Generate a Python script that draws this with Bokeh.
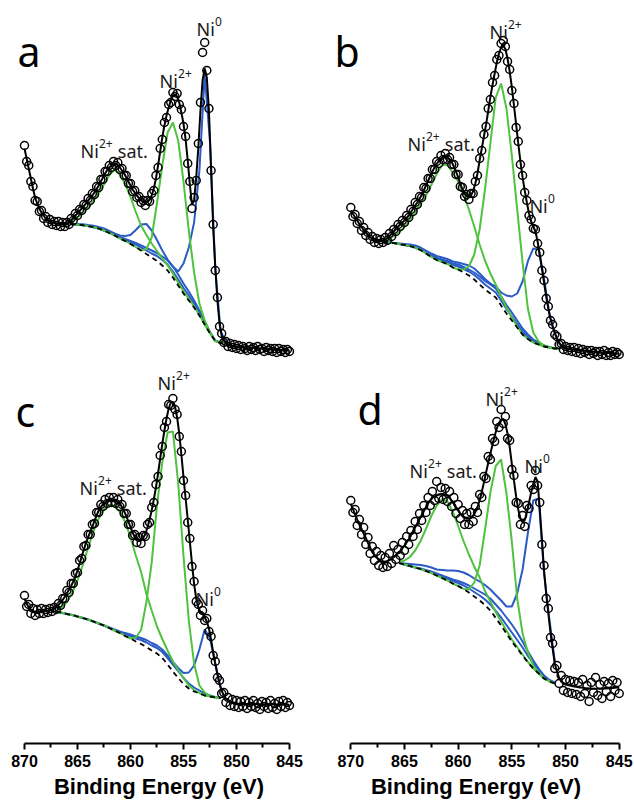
import numpy as np
from bokeh.plotting import figure
from bokeh.layouts import column, row
from bokeh.models import Range1d, FixedTicker
from bokeh.core.properties import value
from bokeh.embed import file_html
from bokeh.resources import INLINE

# ---------------- data ----------------
# binding-energy grid of the measured points / fit envelope (eV)
ENERGY = np.linspace(870.0, 845.0, 126)
TICKS = [870, 865, 860, 855, 850, 845]
MINOR_TICKS = [867.5, 862.5, 857.5, 852.5, 847.5]

# ---- panel a ----
A_FIT = [222, 212, 202, 192, 182, 173, 167, 162, 158, 155,
         152, 150, 149, 148, 147.5, 147, 147, 146.5, 146, 146,
         146.5, 148, 150, 152.5, 155, 157, 159.5, 162, 164.5, 167,
         170, 172.5, 175, 178, 181.5, 185, 189, 193, 197, 200.5,
         203, 205, 206.5, 207, 205.5, 203, 200, 197, 193, 189,
         185, 181, 178, 175, 172.5, 170, 168.5, 168, 168.5, 171,
         175, 182, 192, 205, 219, 233, 245, 255, 263, 270,
         275, 276, 274, 268, 258, 247, 231, 210, 186, 166,
         170, 193, 223, 260, 290, 302, 293, 260, 203, 143,
         103, 70, 47, 35, 30, 27.5, 26, 25, 24.5, 24,
         23.5, 23.4, 23.3, 23.2, 23.1, 23, 22.9, 22.8, 22.7, 22.5,
         22.4, 22.2, 22.1, 22, 21.8, 21.6, 21.5, 21.3, 21.1, 21,
         20.8, 20.6, 20.5, 20.3, 20.1, 20]
A_DATA = [225, 209, 205, 189, 184, 170, 169, 159, 160, 152,
          154, 148, 151, 146, 149, 145, 149, 144, 148, 144,
          148, 146, 152, 150, 157, 155, 161, 160, 166, 165,
          172, 170, 177, 176, 184, 183, 191, 191, 199, 199,
          205, 203, 209, 205, 208, 201, 202, 195, 195, 187,
          187, 179, 180, 173, 174, 168, 170, 165, 170, 169,
          177, 180, 195, 203, 222, 231, 248, 253, 266, 268,
          278, 274, 277, 266, 261, 244, 234, 207, 189, 162,
          173, 190, 227, 268, 318, 328, 300, 262, 200, 146,
          100, 73, 44, 37, 28, 29, 24, 27, 23, 26,
          22, 25, 21, 24, 22, 20, 24, 21, 23, 20,
          24, 21, 22, 19, 23, 20, 22, 19, 22, 18,
          22, 19, 21, 18, 21, 19]
A_COMP_RANGE = (866.5, 851.0)
A_BG = [146.5, 146.5, 146.3, 146, 145.3, 144.5, 143.3, 142, 140, 137.5, 135, 132, 129.5, 126.5, 123.5, 120,
        116.5, 113, 109.5, 105, 100, 93, 85, 77, 70, 63, 55, 46, 37, 29.5, 27.5, 27]
A_G1 = [0, 1, 3, 7, 12, 18, 26, 35, 46, 58, 66, 64, 57, 47, 35, 25,
        19, 14, 10, 7, 5, 4, 3, 2, 1.5, 1, 0.5, 0, 0, 0, 0, 0]
A_G2 = [0, 0, 0, 0, 0, 0, 0, 0, 0, 0, 0, 0, 0, 0, 0, 0,
        5, 20, 58, 100, 138, 155, 145, 112, 70, 35, 12, 4, 1, 0, 0, 0]
A_B1 = [0, 0, 0.5, 0.5, 1, 1, 1.5, 1.5, 2, 2, 2, 3, 5, 9, 17, 26,
        30, 27, 21, 15, 11, 11, 14, 30, 53, 85, 145, 250, 191, 72, 12, 1]
A_B2 = [0, 0, 0, 0, 0, 0, 0, 0, 0, 0.5, 1, 1.5, 2, 3, 4, 5,
        6, 7, 8, 9, 10, 11, 11, 10, 9, 7, 5, 3, 1.5, 0.5, 0, 0]
A_B3 = [0, 0, 0, 0, 0, 0, 0, 0, 0, 0.5, 1, 1, 1.5, 2, 2.5, 3,
        3.5, 4, 5, 5.5, 6, 6, 6, 5.5, 5, 4, 3, 2, 1, 0.5, 0, 0]

# ---- panel b ----
B_FIT = [160, 156.5, 153.3, 150, 146.5, 143.3, 140.5, 138, 135.5, 133.5,
         131.7, 130.5, 129.5, 129.3, 129.5, 130, 131, 132.5, 134.5, 136.5,
         139, 141.5, 144, 146, 148, 150, 152.5, 155, 158.5, 161.5,
         165, 168, 171.5, 175.5, 180, 185, 189.5, 194.5, 199, 203,
         206.7, 209.5, 212, 213.5, 214, 213.3, 211, 208.5, 204, 199,
         193.3, 187, 181, 177, 174.5, 173.3, 175, 179.5, 187, 197,
         210, 222, 234, 246, 259.5, 273.3, 285.5, 297, 308, 317,
         323, 325, 321.5, 312, 299, 283.3, 265, 246, 227, 209,
         193.3, 180, 168, 157, 149, 144, 139, 129, 116, 102,
         88, 74, 62, 52, 44, 38, 32, 28, 25, 23,
         22, 21.8, 21.5, 21.2, 21, 20.8, 20.5, 20.3, 20, 19.8,
         19.5, 19.3, 19, 18.8, 18.6, 18.4, 18.3, 18.1, 18, 17.8,
         17.6, 17.4, 17.2, 17, 16.8, 16.7]
B_DATA = [163, 154, 156, 147, 149, 140, 143, 135, 138, 131,
          134, 128, 132, 127, 131, 128, 133, 130, 137, 134,
          141, 139, 146, 144, 150, 148, 155, 153, 161, 159,
          168, 166, 174, 173, 183, 182, 192, 192, 201, 201,
          209, 207, 215, 211, 217, 211, 213, 206, 206, 196,
          196, 184, 183, 174, 176, 171, 177, 177, 189, 195,
          212, 220, 236, 244, 262, 271, 288, 295, 311, 315,
          327, 330, 324, 309, 301, 280, 267, 243, 229, 206,
          195, 178, 170, 155, 151, 142, 141, 127, 118, 100,
          90, 72, 64, 50, 46, 36, 34, 26, 27, 21,
          24, 20, 23, 19, 23, 18, 22, 17, 21, 18,
          20, 16, 20, 17, 19, 15, 19, 16, 20, 15,
          18, 15, 19, 16, 18, 16]
B_COMP_RANGE = (867.0, 850.5)
B_BG = [128.5, 128, 127.5, 126.5, 125.5, 124.5, 123, 120.5, 117, 113.5, 110.5, 108.5, 106.5, 103, 101, 98, 95,
        91, 86, 81, 77, 73, 65, 57, 50, 43, 36, 31.5, 28, 26, 24, 23, 22, 21.5]
B_G1 = [0, 3, 7, 12, 18, 26, 35, 46, 58, 72, 86, 97, 99, 95, 88, 78, 66,
        53, 40, 29, 20, 13, 9, 6, 3, 1, 0, 0, 0, 0, 0, 0, 0, 0]
B_G2 = [0, 0, 0, 0, 0, 0, 0, 0, 0, 0, 0, 0, 0, 0, 0, 3, 9,
        25, 55, 100, 150, 200, 222, 205, 165, 118, 72, 30, 10, 3, 1, 0, 0, 0]
B_B1 = [0, 0, 0, 0.5, 1, 1.5, 2, 2.5, 3, 3.5, 4, 4.5, 5, 6, 7, 8.5, 10,
        11, 11, 10.5, 10, 11, 13, 18, 24, 34, 53, 78, 94, 95, 68, 33, 15, 4]
B_B2 = [0, 0, 0, 0, 0, 0, 0, 0.5, 1, 1.5, 2, 2.5, 3, 4, 5, 5.5, 6,
        7, 8, 8.5, 9, 9, 9, 8.5, 8, 7, 6, 4.5, 3, 2, 1, 0.5, 0, 0]
B_B3 = [0, 0, 0, 0, 0, 0, 0, 0, 0.5, 1, 1, 1.5, 2, 2.5, 3, 3.5, 4,
        4.5, 5, 5, 5, 5, 5, 4.5, 4, 3.5, 3, 2, 1.5, 1, 0.5, 0, 0, 0]

# ---- panel c ----
C_FIT = [145, 140, 136, 133.5, 132, 131.3, 131.5, 132, 132.3, 132.4,
         132.5, 132.8, 133.2, 133.8, 134.8, 136.2, 138.3, 140.8, 143.5, 146.7,
         150.3, 153.8, 157.5, 162, 167, 173, 180, 187, 194, 200.5,
         206.3, 211.5, 216.8, 222.3, 228, 233, 236.5, 239, 241, 242.3,
         243, 243.5, 243.3, 242.7, 241.5, 239.7, 236.5, 232.3, 227.5, 222,
         216.3, 211, 206.5, 204, 203, 203.5, 205.5, 209.5, 216, 224,
         233, 244, 256, 270, 285, 299.7, 313, 325, 335, 341,
         341.3, 337, 326, 310, 289, 266.3, 245, 224, 202, 180,
         159.7, 145, 136, 131.5, 129.5, 126.3, 122, 115, 104, 91,
         79.7, 69, 60, 53, 48, 44.7, 43, 41.8, 41, 40.3,
         39.7, 39.6, 39.5, 39.5, 39.4, 39.4, 39.4, 39.3, 39.3, 39.3,
         39.2, 39.2, 39.2, 39.1, 39.1, 39.1, 39.0, 39.0, 39.0, 39.0,
         38.9, 38.9, 38.9, 38.8, 38.8, 38.8]
C_DATA = [148, 137, 139, 130, 135, 128, 134, 130, 135, 130,
          134, 131, 135, 132, 136, 134, 140, 138, 145, 145,
          153, 151, 160, 160, 170, 171, 183, 185, 197, 198,
          209, 209, 219, 220, 231, 231, 239, 237, 244, 240,
          246, 241, 246, 240, 244, 237, 239, 230, 230, 219,
          219, 208, 209, 201, 206, 200, 208, 207, 219, 221,
          236, 241, 259, 267, 288, 297, 316, 322, 339, 338,
          345, 334, 329, 307, 292, 263, 248, 221, 205, 177,
          162, 142, 139, 128, 133, 123, 125, 112, 107, 88,
          82, 66, 63, 50, 51, 41, 46, 38, 44, 37,
          43, 36, 42, 37, 43, 35, 41, 37, 43, 36,
          40, 34, 42, 37, 41, 35, 43, 36, 40, 34,
          42, 37, 43, 36, 41, 38]
C_COMP_RANGE = (867.0, 851.5)
C_BG = [132, 130.8, 129.5, 128.5, 127, 125.5, 124, 122, 120, 118, 115.5, 113, 110.5, 107.5, 105, 102,
        99.5, 96.5, 93, 90, 85.5, 79, 72, 65.5, 59.5, 55, 52, 50, 48, 47, 46, 45.5]
C_G1 = [0, 5, 12, 22, 36, 53, 72, 90, 105, 116, 123, 125, 121, 114, 101, 86,
        72, 53, 40, 27, 19, 14, 10, 8, 6, 3, 1.5, 0.5, 0, 0, 0, 0]
C_G2 = [0, 0, 0, 0, 0, 0, 0, 0, 0, 0, 0, 0, 0, 0, 0, 4,
        14, 45, 88, 148, 196, 232, 240, 195, 128, 68, 28, 8, 3, 0.5, 0, 0]
C_B1 = [0, 0, 0, 0, 0, 0, 0, 0, 0, 0, 0, 0, 1, 3, 4, 5,
        6, 7, 7.5, 8, 8.5, 9, 9.5, 10, 11, 16, 26, 44, 66, 58, 34, 10]
C_B2 = [0, 0, 0, 0, 0, 0, 0, 0, 0, 0, 0.5, 1, 1.5, 2, 2.5, 3,
        4, 4.5, 5, 5.5, 6, 6.5, 7, 7, 6, 5, 4, 3, 2, 1, 0.5, 0]

# ---- panel d ----
D_FIT = [239.7, 234.5, 229, 223.8, 219, 214.7, 210, 205.5, 200.7, 196,
         191.3, 188.5, 186, 184, 182.3, 181.3, 181.5, 182.3, 183.5, 184.8,
         186.3, 188.3, 190.3, 192.5, 195.2, 198, 201, 204.5, 208.3, 212.3,
         216.3, 220.3, 224.3, 228.3, 232.3, 236.3, 240, 243.3, 245.7, 247,
         248, 249, 249.6, 249.6, 249, 248, 246, 243, 239.5, 236.3,
         233, 230, 227.3, 225.5, 224.8, 224.7, 225.8, 228, 231.5, 236.5,
         243, 251.5, 261, 271, 280.5, 289.7, 298.7, 307.5, 315, 320.5,
         323, 324.7, 319.5, 310, 296.5, 279.7, 263, 247, 234, 225,
         221.3, 223.5, 231, 241, 251, 259.7, 266.5, 262, 235, 205,
         173, 150, 130, 111, 95, 80, 72, 66, 62, 60,
         59, 58.4, 57.9, 57.5, 57.1, 56.7, 56.3, 56, 55.7, 55.4,
         55.2, 55, 54.8, 54.7, 54.7, 54.7, 54.7, 54.8, 54.9, 55,
         55.2, 55.4, 55.6, 55.8, 56, 56.3]
D_DATA = [243, 231, 234, 218, 224, 209, 216, 199, 206, 190,
          197, 183, 192, 178, 188, 176, 186, 177, 190, 180,
          198, 184, 194, 188, 201, 193, 207, 199, 213, 207,
          222, 214, 230, 223, 238, 231, 246, 238, 252, 243,
          262, 245, 256, 244, 255, 242, 252, 237, 246, 230,
          239, 225, 233, 219, 230, 219, 231, 222, 237, 231,
          249, 246, 267, 265, 287, 284, 305, 302, 322, 316,
          334, 320, 327, 305, 303, 274, 268, 241, 240, 219,
          228, 217, 238, 235, 258, 254, 273, 258, 241, 199,
          178, 145, 135, 106, 100, 75, 78, 60, 68, 53,
          64, 51, 63, 50, 62, 49, 61, 47, 64, 50,
          58, 42, 61, 51, 66, 48, 59, 45, 62, 52,
          60, 47, 63, 53, 61, 50]
D_COMP_RANGE = (865.5, 851.0)
D_BG = [180.5, 179, 177.5, 176, 174.5, 172.5, 170.5, 168, 165.5, 163, 160, 157.5, 154.5, 151, 147,
        143, 138.5, 133, 125.5, 118, 110, 102, 95, 88, 81, 75, 70, 65, 62, 60]
D_G1 = [1, 4, 9, 17, 28, 42, 57, 70, 79, 79, 72, 60, 48, 38, 30,
        23, 14, 9, 6, 4, 3, 2, 1.5, 1, 0.5, 0, 0, 0, 0, 0]
D_G2 = [0, 0, 0, 0, 0, 0, 0, 0, 0, 0, 0, 0, 0, 3, 14,
        35, 75, 118, 152, 166, 140, 100, 50, 22, 10, 3, 1, 0, 0, 0]
D_B1 = [0, 1, 2, 3, 4, 5, 5.5, 6, 8, 10, 13, 15, 16.5, 17.5, 18,
        19, 20, 21, 23, 25, 27, 35, 55, 86, 130, 168, 175, 105, 62, 22]
D_B2 = [0, 0, 0, 0, 0.5, 1, 1.5, 2, 2.5, 3, 4, 5, 6, 7, 8,
        9, 10.5, 12, 13.5, 15, 16, 17, 16, 14, 11, 8, 5, 3, 1.5, 1]
D_B3 = [0, 0, 0, 0, 0, 0, 0.5, 1, 1.5, 2, 2.5, 3, 3.5, 4, 4.5,
        5, 5.5, 6, 7, 8, 8.5, 9, 8.5, 8, 6.5, 5, 3.5, 2, 1, 0.5]

# peak annotations: (text, superscript, trailing text, left energy, baseline intensity)
A_LABELS = [("Ni", "2+", "sat.", 864.72, 220), ("Ni", "2+", "", 857.26, 290), ("Ni", "0", "", 853.77, 342)]
B_LABELS = [("Ni", "2+", "sat.", 864.72, 227), ("Ni", "2+", "", 857.08, 339), ("Ni", "0", "", 853.36, 165)]
C_LABELS = [("Ni", "2+", "sat.", 864.81, 256), ("Ni", "2+", "", 857.45, 361), ("Ni", "0", "", 853.87, 145)]
D_LABELS = [("Ni", "2+", "sat.", 864.53, 273), ("Ni", "2+", "", 857.45, 345), ("Ni", "0", "", 853.82, 278)]

# ---------------- styling ----------------
GREEN = "#4fc23f"
BLUE = "#2b5bc6"
LEFT_X = (872.264, 842.358)
RIGHT_X = (873.10, 843.575)
TOP_H, BOTTOM_H = 362, 444
TOP_Y = (8, 370)        # intensity range of the top-row frames
BOTTOM_Y = (0, 381)     # intensity range of the bottom-row frames
MAIN_FS = 18
SUP_FS = 12
NI_W = 18.5             # px width of "Ni" at MAIN_FS
SUP_W = {"2+": 14.0, "0": 7.5}
SPACE_W = 4.8


def comp_energy(rng):
    start, end = rng
    n = int(round((start - end) / 0.5)) + 1
    return np.linspace(start, end, n)


def add_labels(p, labels):
    font = value("Noto Sans")
    col = "#1a1a1a"
    for main, sup, tail, x, y in labels:
        p.text(x=[x], y=[y], text=[main], text_font=font, text_font_size=f"{MAIN_FS}px",
               text_align="left", text_baseline="alphabetic", text_color=col)
        p.text(x=[x], y=[y], text=[sup], x_offset=NI_W, y_offset=-7, text_font=font,
               text_font_size=f"{SUP_FS}px", text_align="left", text_baseline="alphabetic",
               text_color=col)
        if tail:
            p.text(x=[x], y=[y], text=[tail], x_offset=NI_W + SUP_W[sup] + SPACE_W, text_font=font,
                   text_font_size=f"{MAIN_FS}px", text_align="left", text_baseline="alphabetic",
                   text_color=col)


def make_panel(letter, letter_pos, fit, data, comp_rng, bg, greens, blues, labels, xr, bottom):
    assert len(fit) == len(ENERGY) and len(data) == len(ENERGY), letter
    ce = comp_energy(comp_rng)
    for c in [bg] + greens + blues:
        assert len(c) == len(ce), (letter, len(c), len(ce))
    h = BOTTOM_H if bottom else TOP_H
    yr = BOTTOM_Y if bottom else TOP_Y
    p = figure(width=317, height=h, x_range=Range1d(*xr), y_range=Range1d(*yr),
               output_backend="svg", toolbar_location=None,
               x_axis_location="below" if bottom else None, y_axis_location=None,
               min_border=0)
    if bottom:
        p.min_border_bottom = 63
    p.outline_line_color = None
    p.background_fill_color = "white"
    p.border_fill_color = "white"
    for g in p.grid:
        g.visible = False

    bg_arr = np.array(bg, dtype=float)
    for comp in blues:
        p.line(ce, bg_arr + np.array(comp, dtype=float), line_color=BLUE, line_width=2)
    for comp in greens:
        p.line(ce, bg_arr + np.array(comp, dtype=float), line_color=GREEN, line_width=2)
    p.line(ce, bg_arr, line_color="black", line_width=1.8, line_dash="5 4")

    p.scatter(ENERGY, data, marker="circle", size=8, fill_color=None,
              line_color="black", line_width=1.5)
    p.line(ENERGY, fit, line_color="black", line_width=2)

    add_labels(p, labels)
    p.text(x=[letter_pos[0]], y=[letter_pos[1]], text=[letter],
           text_font=value("Noto Sans"), text_font_size="41px", text_align="left",
           text_baseline="alphabetic", text_color="black")

    if bottom:
        ax = p.xaxis[0]
        ax.ticker = FixedTicker(ticks=TICKS, minor_ticks=MINOR_TICKS)
        ax.bounds = (845, 870)
        ax.axis_label = "Binding Energy (eV)"
        ax.axis_label_text_font = "Liberation Sans"
        ax.axis_label_text_font_style = "bold"
        ax.axis_label_text_font_size = "22px"
        ax.axis_label_text_color = "black"
        ax.axis_label_standoff = 4
        ax.major_label_text_font = "Liberation Sans"
        ax.major_label_text_font_style = "bold"
        ax.major_label_text_font_size = "16px"
        ax.major_label_text_color = "black"
        ax.major_label_standoff = 5
        ax.axis_line_color = "black"
        ax.axis_line_width = 2
        ax.major_tick_line_color = "black"
        ax.major_tick_line_width = 2
        ax.minor_tick_line_color = "black"
        ax.minor_tick_line_width = 2
        ax.major_tick_in = 0
        ax.major_tick_out = 6
        ax.minor_tick_in = 0
        ax.minor_tick_out = 4
    return p


pa = make_panel("a", (870.66, 320), A_FIT, A_DATA, A_COMP_RANGE, A_BG, [A_G1, A_G2], [A_B1, A_B2, A_B3],
                A_LABELS, LEFT_X, False)
pb = make_panel("b", (871.52, 320), B_FIT, B_DATA, B_COMP_RANGE, B_BG, [B_G1, B_G2], [B_B1, B_B2, B_B3],
                B_LABELS, RIGHT_X, False)
pc = make_panel("c", (870.85, 333), C_FIT, C_DATA, C_COMP_RANGE, C_BG, [C_G1, C_G2], [C_B1, C_B2],
                C_LABELS, LEFT_X, True)
pd = make_panel("d", (869.38, 335), D_FIT, D_DATA, D_COMP_RANGE, D_BG, [D_G1, D_G2], [D_B1, D_B2, D_B3],
                D_LABELS, RIGHT_X, True)

layout = column(row(pa, pb), row(pc, pd))
open("out.html", "w").write(file_html(layout, INLINE))
